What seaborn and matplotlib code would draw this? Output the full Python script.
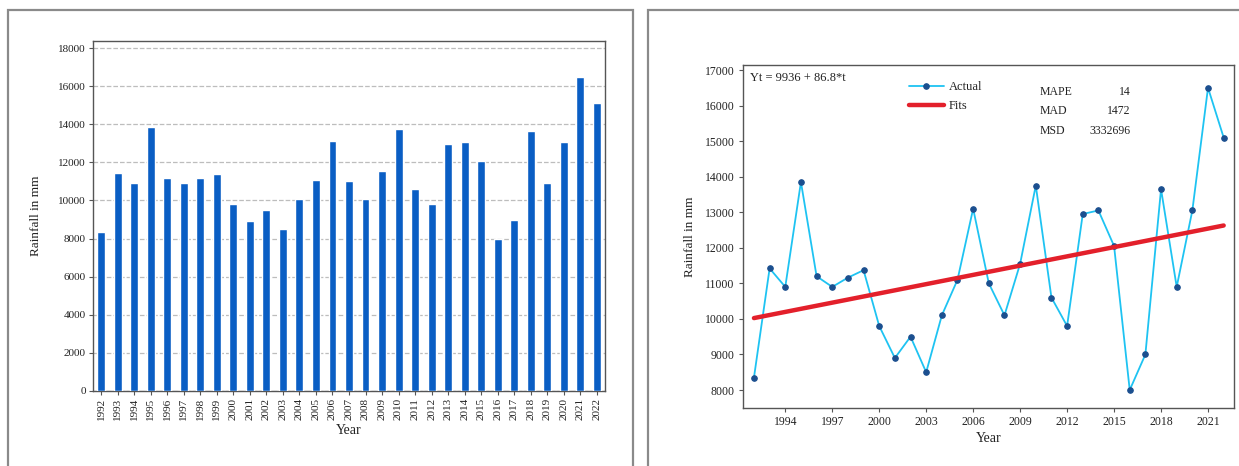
import numpy as np
import pandas as pd
import matplotlib
matplotlib.use("Agg")
import matplotlib.pyplot as plt
from matplotlib.patches import Rectangle
import seaborn as sns

# Annual rainfall (mm), 1992-2022
years = list(range(1992, 2023))
rainfall = [8350, 11420, 10900, 13850, 11200, 10900, 11160, 11370, 9800, 8900,
            9500, 8500, 10100, 11100, 13100, 11000, 10100, 11550, 13750, 10600,
            9800, 12950, 13050, 12050, 8000, 9000, 13650, 10900, 13050, 16500,
            15100]

# Linear trend Yt = a + b*t, t = 1..n
trend_a = 9936
trend_b = 86.8
stat_names = ["MAPE", "MAD", "MSD"]
stat_values = ["14", "1472", "3332696"]

bar_yticks = list(range(0, 18001, 2000))
line_yticks = list(range(8000, 17001, 1000))
line_xticks = list(range(1994, 2022, 3))

df = pd.DataFrame({"Year": years, "Rainfall": rainfall})
df["t"] = np.arange(1, len(df) + 1)
df["Fit"] = trend_a + trend_b * df["t"]

sns.set_style("ticks")
plt.rcParams["font.family"] = ["Liberation Serif", "DejaVu Serif"]

W, H = 1239, 466
fig = plt.figure(figsize=(W / 100, H / 100), dpi=100)

def fx(px):
    return px / W

def fy(py):
    return 1 - py / H

# panel frames
for x0, x1 in [(8, 633), (648, 1260)]:
    fig.patches.append(Rectangle((fx(x0), fy(480)), fx(x1 - x0), (480 - 10) / H,
                                 transform=fig.transFigure, fill=False,
                                 edgecolor="#8a8a8a", linewidth=1.6))

spine_col = "#555555"
text_col = "#222222"

# ---- left: bar chart of annual rainfall ----
ax1 = fig.add_axes([fx(93), fy(391), fx(605 - 93), (391 - 41) / H])
sns.barplot(data=df, x="Year", y="Rainfall", color="#0a5ec4", width=0.48,
            saturation=1, ax=ax1, zorder=3)
ax1.set_ylim(0, 18370)
ax1.set_yticks(bar_yticks)
ax1.set_yticklabels([str(v) for v in bar_yticks], fontsize=8, color=text_col)
ax1.set_xticks(range(len(years)))
ax1.set_xticklabels([str(y) for y in years], rotation=90, fontsize=8, color=text_col)
ax1.yaxis.grid(True, linestyle="--", color="#bdbdbd", linewidth=0.9)
ax1.set_axisbelow(True)
ax1.set_xlabel("Year", fontsize=10, color=text_col, labelpad=3)
ax1.set_ylabel("Rainfall in mm", fontsize=9.5, color=text_col, labelpad=12)
for s in ax1.spines.values():
    s.set_visible(True)
    s.set_color(spine_col)
    s.set_linewidth(1.0)
ax1.tick_params(axis="both", length=3, width=0.8, color=spine_col, pad=2)

# ---- right: trend analysis ----
ax2 = fig.add_axes([fx(743), fy(408), fx(1234 - 743), (408 - 65) / H])
sns.lineplot(data=df, x="Year", y="Rainfall", ax=ax2, color="#1ec3f2",
             linewidth=1.3, marker="o", markersize=4, markerfacecolor="#1b4f8f",
             markeredgecolor="#1b4f8f", label="Actual", zorder=3)
sns.lineplot(data=df, x="Year", y="Fit", ax=ax2, color="#e3202b",
             linewidth=3.2, label="Fits", zorder=4)
ax2.set_xlim(1991.3, 2022.66)
ax2.set_ylim(7494, 17141)
ax2.set_xticks(line_xticks)
ax2.set_xticklabels([str(v) for v in line_xticks], fontsize=8.5, color=text_col)
ax2.set_yticks(line_yticks)
ax2.set_yticklabels([str(v) for v in line_yticks], fontsize=8.5, color=text_col)
ax2.set_xlabel("Year", fontsize=10, color=text_col, labelpad=3)
ax2.set_ylabel("Rainfall in mm", fontsize=9.5, color=text_col, labelpad=6)
for s in ax2.spines.values():
    s.set_visible(True)
    s.set_color(spine_col)
    s.set_linewidth(1.0)
ax2.tick_params(axis="both", length=3, width=0.8, color=spine_col, pad=3)

leg = ax2.legend(loc="upper left", bbox_to_anchor=(0.315, 0.985), frameon=False,
                 fontsize=9, handlelength=2.8, labelspacing=0.55, handletextpad=0.4)
for t in leg.get_texts():
    t.set_color(text_col)

ax2.text(0.015, 0.962, f"Yt = {trend_a} + {trend_b}*t", transform=ax2.transAxes,
         fontsize=9, color=text_col, ha="left", va="center")
for i, (n, v) in enumerate(zip(stat_names, stat_values)):
    yy = 0.922 - i * 0.057
    ax2.text(0.605, yy, n, transform=ax2.transAxes, fontsize=8.5,
             color=text_col, ha="left", va="center")
    ax2.text(0.79, yy, v, transform=ax2.transAxes, fontsize=8.5,
             color=text_col, ha="right", va="center")

fig.savefig("out.png", dpi=100)
